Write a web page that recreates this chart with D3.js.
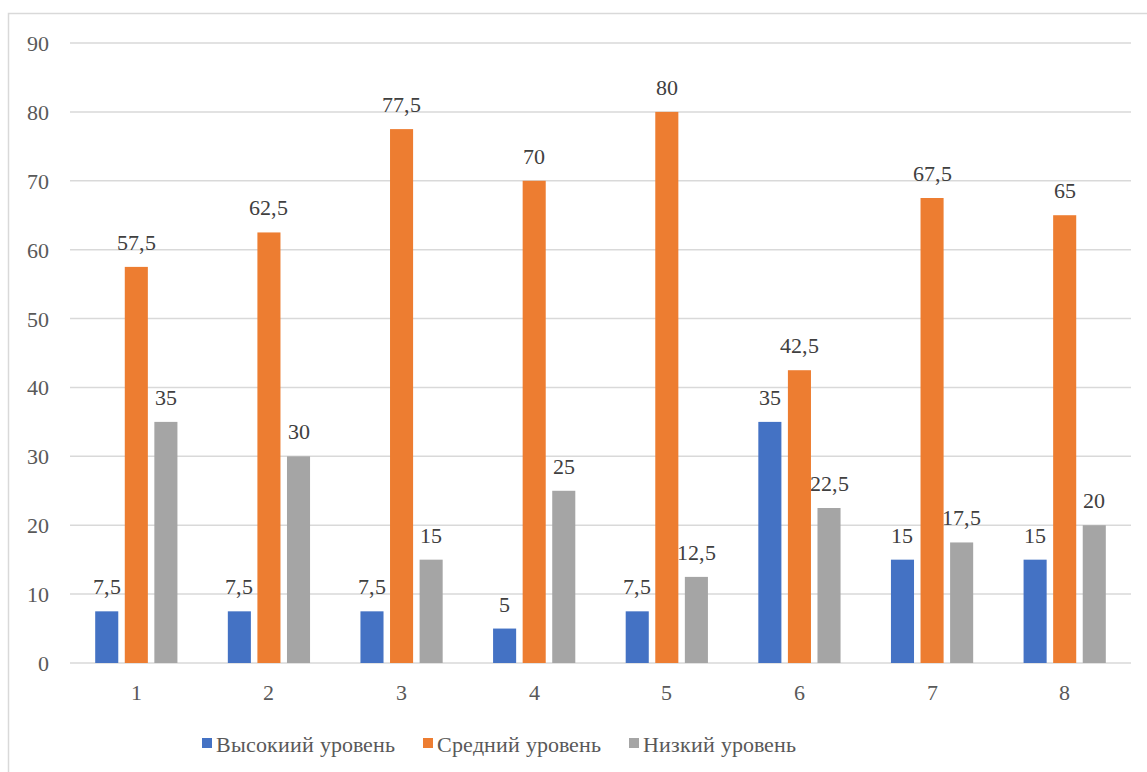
<!DOCTYPE html>
<html>
<head>
<meta charset="utf-8">
<script src="https://cdn.jsdelivr.net/npm/d3@7"></script>
<style>
  @font-face {
    font-family: "ChartSerif";
    src: local("Liberation Serif"), local("LiberationSerif"), local("Tinos"), local("Times New Roman");
  }
  html, body { margin: 0; padding: 0; background: #fff; }
</style>
</head>
<body>
<div id="chart"></div>
<script>
// chart data
const categories = ["1", "2", "3", "4", "5", "6", "7", "8"];
const seriesNames = ["Высокиий уровень", "Средний уровень", "Низкий уровень"];
const highLevel = [7.5, 7.5, 7.5, 5, 7.5, 35, 15, 15];
const midLevel = [57.5, 62.5, 77.5, 70, 80, 42.5, 67.5, 65];
const lowLevel = [35, 30, 15, 25, 12.5, 22.5, 17.5, 20];
const yTicks = [0, 10, 20, 30, 40, 50, 60, 70, 80, 90];

const colors = ["#4472C4", "#ED7D31", "#A5A5A5"];
const seriesValues = [highLevel, midLevel, lowLevel];

const width = 1147;
const height = 772;
const plot = { left: 70, right: 1131, top: 43, bottom: 663 };
const textFont = "ChartSerif";

const svg = d3.select("#chart").append("svg")
    .attr("width", width)
    .attr("height", height);

// outer chart border (runs off the right and bottom edges)
svg.append("rect")
    .attr("x", 8.5)
    .attr("y", 13.5)
    .attr("width", width)
    .attr("height", height)
    .attr("fill", "none")
    .attr("stroke", "#D9D9D9")
    .attr("stroke-width", 1.5);

const y = d3.scaleLinear()
    .domain([0, 90])
    .range([plot.bottom, plot.top]);

const x0 = d3.scaleBand()
    .domain(categories)
    .range([plot.left, plot.right])
    .paddingInner(0.38)
    .paddingOuter(0.19);

const x1 = d3.scaleBand()
    .domain(d3.range(seriesNames.length))
    .range([0, x0.bandwidth()])
    .paddingInner(0.22);

// gridlines (bottom one doubles as the category axis line)
svg.selectAll(".grid")
    .data(yTicks)
    .join("line")
    .attr("class", "grid")
    .attr("x1", plot.left)
    .attr("x2", plot.right)
    .attr("y1", d => y(d))
    .attr("y2", d => y(d))
    .attr("stroke", "#D9D9D9")
    .attr("stroke-width", 1.5);

// y labels
svg.selectAll(".ylab")
    .data(yTicks)
    .join("text")
    .attr("class", "ylab")
    .attr("x", plot.left - 21)
    .attr("y", d => y(d) + 8)
    .attr("text-anchor", "end")
    .attr("fill", "#595959")
    .style("font-family", textFont)
    .style("font-size", "22px")
    .text(d => d);

// bars
const barData = [];
categories.forEach((c, i) => {
    seriesValues.forEach((vals, s) => barData.push({ c, s, v: vals[i] }));
});

svg.selectAll(".bar")
    .data(barData)
    .join("rect")
    .attr("class", "bar")
    .attr("x", d => x0(d.c) + x1(d.s))
    .attr("y", d => y(d.v))
    .attr("width", x1.bandwidth())
    .attr("height", d => y(0) - y(d.v))
    .attr("fill", d => colors[d.s]);

// data labels
svg.selectAll(".dlab")
    .data(barData)
    .join("text")
    .attr("class", "dlab")
    .attr("x", d => x0(d.c) + x1(d.s) + x1.bandwidth() / 2)
    .attr("y", d => y(d.v) - 17)
    .attr("text-anchor", "middle")
    .attr("fill", "#404040")
    .style("font-family", textFont)
    .style("font-size", "22px")
    .text(d => String(d.v).replace(".", ","));

// x labels
svg.selectAll(".xlab")
    .data(categories)
    .join("text")
    .attr("class", "xlab")
    .attr("x", d => x0(d) + x0.bandwidth() / 2)
    .attr("y", 700)
    .attr("text-anchor", "middle")
    .attr("fill", "#595959")
    .style("font-family", textFont)
    .style("font-size", "22px")
    .text(d => d);

// legend, laid out from measured text widths and centred under the plot
const legend = svg.append("g");
const items = legend.selectAll("g")
    .data(seriesNames)
    .join("g");
items.append("rect")
    .attr("y", 738)
    .attr("width", 10)
    .attr("height", 10)
    .attr("fill", (d, i) => colors[i]);
items.append("text")
    .attr("x", 14)
    .attr("y", 752)
    .attr("fill", "#595959")
    .style("font-family", textFont)
    .style("font-size", "22px")
    .text(d => d);

function placeLegend() {
    const itemWidths = [];
    items.select("text").each(function() {
        itemWidths.push(14 + this.getComputedTextLength());
    });
    const legendGap = 28;
    const legendTotal = d3.sum(itemWidths) + legendGap * (itemWidths.length - 1);
    let cursor = 499 - legendTotal / 2;
    items.attr("transform", (d, i) => {
        const tx = cursor;
        cursor += itemWidths[i] + legendGap;
        return `translate(${tx},0)`;
    });
}
placeLegend();
if (document.fonts && document.fonts.ready) document.fonts.ready.then(placeLegend);
</script>
</body>
</html>
